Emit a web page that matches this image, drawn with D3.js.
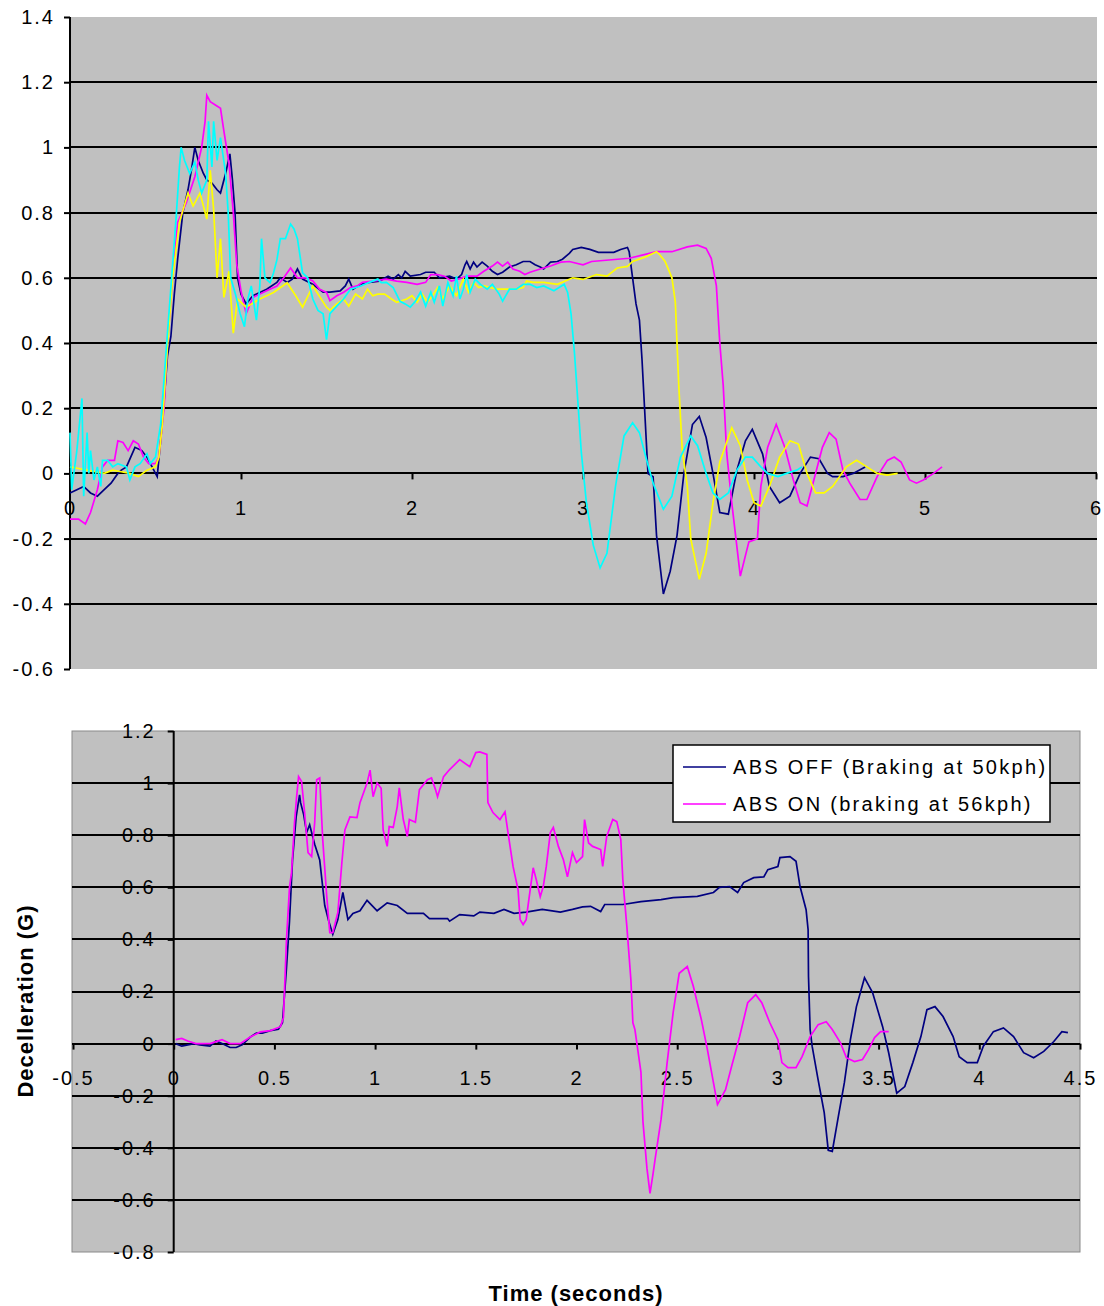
<!DOCTYPE html>
<html>
<head>
<meta charset="utf-8">
<script src="https://cdn.jsdelivr.net/npm/d3@7"></script>
<style>
  html, body { margin: 0; padding: 0; background: #ffffff; }
  svg { display: block; font-family: "Liberation Sans", Arial, sans-serif; }
</style>
</head>
<body>
<svg id="chart" width="1104" height="1306"></svg>
<script>
// ---------------- DATA ----------------
// Top chart: four braking runs, [time (s), deceleration (G)]
const topRun1 = [[0,-0.06],[0.04,-0.05],[0.08,-0.04],[0.12,-0.06],[0.16,-0.07],[0.2,-0.05],[0.24,-0.03],[0.28,0.0],[0.3,0.01],[0.33,0.02],[0.38,0.08],[0.42,0.07],[0.45,0.05],[0.5,0.0],[0.51,-0.01],[0.53,0.1],[0.55,0.22],[0.57,0.36],[0.59,0.42],[0.61,0.55],[0.63,0.66],[0.66,0.8],[0.69,0.87],[0.71,0.93],[0.73,1.0],[0.75,0.96],[0.78,0.92],[0.8,0.9],[0.83,0.89],[0.86,0.87],[0.88,0.86],[0.91,0.92],[0.935,0.98],[0.95,0.9],[0.965,0.8],[0.98,0.6],[1.0,0.55],[1.03,0.52],[1.07,0.545],[1.11,0.555],[1.15,0.565],[1.21,0.586],[1.23,0.6],[1.27,0.586],[1.3,0.596],[1.33,0.627],[1.36,0.596],[1.42,0.58],[1.48,0.556],[1.52,0.556],[1.58,0.56],[1.61,0.575],[1.63,0.596],[1.655,0.565],[1.7,0.58],[1.75,0.586],[1.81,0.59],[1.86,0.605],[1.89,0.596],[1.92,0.61],[1.94,0.6],[1.96,0.62],[1.99,0.605],[2.05,0.61],[2.08,0.617],[2.13,0.617],[2.16,0.6],[2.22,0.605],[2.26,0.596],[2.29,0.61],[2.31,0.64],[2.32,0.65],[2.34,0.627],[2.36,0.648],[2.38,0.633],[2.41,0.648],[2.44,0.636],[2.47,0.62],[2.5,0.61],[2.53,0.617],[2.57,0.633],[2.61,0.64],[2.65,0.65],[2.69,0.65],[2.72,0.64],[2.75,0.633],[2.77,0.627],[2.81,0.648],[2.85,0.65],[2.88,0.657],[2.92,0.675],[2.94,0.687],[2.99,0.693],[3.04,0.687],[3.09,0.678],[3.18,0.678],[3.22,0.687],[3.26,0.693],[3.27,0.68],[3.29,0.6],[3.31,0.52],[3.33,0.47],[3.345,0.35],[3.36,0.2],[3.38,0.0],[3.41,-0.01],[3.43,-0.19],[3.47,-0.37],[3.51,-0.3],[3.55,-0.19],[3.59,0.0],[3.64,0.15],[3.68,0.175],[3.72,0.11],[3.76,0.0],[3.8,-0.12],[3.85,-0.125],[3.9,0.01],[3.95,0.1],[3.99,0.135],[4.05,0.06],[4.09,-0.04],[4.15,-0.09],[4.21,-0.07],[4.27,0.0],[4.33,0.05],[4.38,0.045],[4.43,0.0],[4.46,-0.01],[4.52,-0.01],[4.58,0.0],[4.65,0.02]];

const topRun2 = [[0,-0.14],[0.05,-0.14],[0.09,-0.155],[0.12,-0.12],[0.16,-0.05],[0.19,0.02],[0.22,0.04],[0.26,0.04],[0.28,0.1],[0.31,0.095],[0.34,0.07],[0.37,0.1],[0.4,0.09],[0.43,0.05],[0.46,0.03],[0.5,0.03],[0.52,0.05],[0.55,0.2],[0.57,0.4],[0.6,0.6],[0.63,0.77],[0.68,0.83],[0.73,0.91],[0.77,1.0],[0.79,1.08],[0.8,1.16],[0.82,1.14],[0.85,1.13],[0.88,1.12],[0.9,1.05],[0.93,0.95],[0.955,0.8],[0.975,0.64],[1.0,0.56],[1.03,0.49],[1.07,0.54],[1.15,0.56],[1.21,0.575],[1.25,0.6],[1.29,0.63],[1.33,0.6],[1.38,0.6],[1.42,0.59],[1.46,0.565],[1.5,0.555],[1.52,0.53],[1.56,0.545],[1.6,0.556],[1.64,0.57],[1.68,0.575],[1.71,0.586],[1.77,0.59],[1.85,0.596],[1.91,0.59],[1.97,0.586],[2.03,0.58],[2.08,0.586],[2.11,0.61],[2.15,0.61],[2.19,0.605],[2.23,0.59],[2.27,0.596],[2.32,0.605],[2.38,0.605],[2.42,0.62],[2.47,0.636],[2.5,0.648],[2.53,0.636],[2.56,0.648],[2.59,0.627],[2.63,0.62],[2.66,0.61],[2.69,0.617],[2.75,0.627],[2.81,0.636],[2.87,0.648],[2.92,0.65],[3.0,0.64],[3.05,0.65],[3.27,0.66],[3.43,0.68],[3.52,0.68],[3.61,0.695],[3.67,0.7],[3.72,0.69],[3.75,0.66],[3.78,0.575],[3.8,0.4],[3.82,0.27],[3.84,0.065],[3.87,-0.09],[3.92,-0.315],[3.97,-0.21],[4.02,-0.2],[4.04,-0.04],[4.08,0.08],[4.13,0.15],[4.18,0.08],[4.23,-0.02],[4.27,-0.09],[4.31,-0.1],[4.35,-0.02],[4.4,0.08],[4.44,0.125],[4.48,0.105],[4.52,0.01],[4.56,-0.03],[4.62,-0.08],[4.66,-0.08],[4.72,-0.01],[4.78,0.04],[4.82,0.05],[4.86,0.035],[4.91,-0.02],[4.95,-0.03],[4.99,-0.02],[5.05,0.0],[5.1,0.02]];

const topRun3 = [[0,0.02],[0.05,0.015],[0.1,0.01],[0.15,0.005],[0.2,0.0],[0.25,0.01],[0.3,0.005],[0.35,0.0],[0.4,-0.01],[0.45,0.01],[0.5,0.02],[0.52,0.05],[0.54,0.15],[0.57,0.39],[0.6,0.6],[0.64,0.77],[0.69,0.86],[0.72,0.82],[0.76,0.86],[0.78,0.82],[0.8,0.78],[0.82,0.93],[0.84,0.81],[0.86,0.6],[0.88,0.72],[0.9,0.54],[0.93,0.62],[0.955,0.43],[0.98,0.535],[1.03,0.51],[1.11,0.535],[1.19,0.555],[1.27,0.585],[1.32,0.545],[1.36,0.51],[1.42,0.575],[1.5,0.51],[1.52,0.5],[1.56,0.52],[1.6,0.535],[1.63,0.513],[1.67,0.55],[1.71,0.535],[1.74,0.565],[1.77,0.545],[1.8,0.55],[1.84,0.55],[1.88,0.535],[1.91,0.525],[1.97,0.535],[2.0,0.545],[2.03,0.525],[2.06,0.55],[2.09,0.525],[2.12,0.545],[2.15,0.57],[2.18,0.535],[2.22,0.575],[2.26,0.545],[2.3,0.596],[2.33,0.556],[2.36,0.586],[2.39,0.57],[2.42,0.575],[2.46,0.57],[2.5,0.565],[2.56,0.565],[2.61,0.565],[2.65,0.57],[2.67,0.59],[2.71,0.586],[2.77,0.586],[2.85,0.58],[2.94,0.6],[3.0,0.595],[3.08,0.61],[3.14,0.605],[3.2,0.63],[3.26,0.635],[3.29,0.65],[3.37,0.665],[3.43,0.68],[3.45,0.67],[3.48,0.65],[3.52,0.6],[3.54,0.525],[3.56,0.27],[3.58,0.075],[3.61,-0.04],[3.63,-0.2],[3.68,-0.325],[3.72,-0.245],[3.76,-0.09],[3.8,0.035],[3.87,0.14],[3.92,0.085],[3.96,-0.02],[4.0,-0.09],[4.04,-0.1],[4.09,-0.04],[4.15,0.05],[4.21,0.1],[4.26,0.09],[4.31,0.0],[4.36,-0.06],[4.41,-0.06],[4.46,-0.04],[4.54,0.02],[4.6,0.04],[4.66,0.02],[4.72,0.0],[4.78,-0.005],[4.84,0.0]];

const topRun4 = [[0,0.125],[0.01,-0.05],[0.04,0.07],[0.07,0.23],[0.08,-0.07],[0.1,0.125],[0.11,0.0],[0.12,0.07],[0.14,-0.02],[0.16,0.02],[0.18,-0.04],[0.19,0.04],[0.22,0.04],[0.25,0.02],[0.28,0.03],[0.33,0.02],[0.35,-0.02],[0.38,0.02],[0.41,0.03],[0.45,0.06],[0.47,0.03],[0.5,0.05],[0.53,0.15],[0.57,0.43],[0.6,0.64],[0.62,0.78],[0.64,0.94],[0.65,1.0],[0.67,0.96],[0.7,0.92],[0.73,0.955],[0.75,0.9],[0.77,0.86],[0.8,0.9],[0.81,1.08],[0.83,0.94],[0.84,1.08],[0.86,0.96],[0.88,1.03],[0.91,0.92],[0.925,0.8],[0.94,0.6],[0.97,0.545],[0.995,0.49],[1.02,0.45],[1.04,0.535],[1.06,0.575],[1.09,0.47],[1.11,0.575],[1.12,0.72],[1.14,0.6],[1.17,0.585],[1.19,0.615],[1.21,0.655],[1.23,0.72],[1.26,0.72],[1.29,0.765],[1.31,0.75],[1.33,0.72],[1.36,0.615],[1.39,0.6],[1.42,0.535],[1.45,0.5],[1.48,0.49],[1.5,0.41],[1.52,0.49],[1.56,0.513],[1.6,0.535],[1.64,0.565],[1.7,0.575],[1.75,0.586],[1.8,0.596],[1.82,0.585],[1.85,0.586],[1.89,0.57],[1.93,0.528],[1.96,0.52],[1.99,0.51],[2.02,0.528],[2.05,0.556],[2.08,0.513],[2.11,0.556],[2.13,0.525],[2.16,0.575],[2.18,0.513],[2.21,0.586],[2.24,0.545],[2.26,0.605],[2.28,0.535],[2.3,0.565],[2.32,0.61],[2.34,0.556],[2.37,0.596],[2.4,0.58],[2.44,0.565],[2.47,0.58],[2.51,0.55],[2.53,0.528],[2.57,0.565],[2.61,0.565],[2.65,0.58],[2.69,0.58],[2.73,0.57],[2.77,0.575],[2.83,0.56],[2.89,0.58],[2.91,0.555],[2.93,0.49],[2.95,0.37],[2.97,0.22],[2.99,0.065],[3.02,-0.09],[3.06,-0.22],[3.1,-0.29],[3.14,-0.245],[3.19,-0.04],[3.24,0.115],[3.29,0.155],[3.33,0.125],[3.37,0.045],[3.41,-0.03],[3.47,-0.11],[3.52,-0.07],[3.57,0.05],[3.63,0.115],[3.67,0.085],[3.72,0.0],[3.76,-0.06],[3.8,-0.08],[3.85,-0.06],[3.9,0.01],[3.95,0.05],[3.99,0.05],[4.04,0.02],[4.08,0.0],[4.14,-0.01],[4.19,0.0],[4.25,0.01],[4.28,0.02]];

// Bottom chart: ABS OFF vs ABS ON
const absOff = [[0.01,0.0],[0.04,-0.01],[0.07,-0.005],[0.1,0.0],[0.13,-0.005],[0.18,-0.01],[0.21,0.01],[0.24,0.0],[0.28,-0.015],[0.31,-0.015],[0.34,-0.005],[0.38,0.025],[0.41,0.04],[0.44,0.04],[0.48,0.05],[0.52,0.055],[0.54,0.08],[0.56,0.29],[0.575,0.47],[0.59,0.705],[0.608,0.87],[0.625,0.955],[0.63,0.925],[0.645,0.88],[0.66,0.81],[0.675,0.84],[0.7,0.765],[0.725,0.705],[0.75,0.53],[0.77,0.47],[0.79,0.42],[0.815,0.476],[0.84,0.58],[0.865,0.476],[0.89,0.5],[0.925,0.51],[0.96,0.55],[1.01,0.51],[1.06,0.54],[1.11,0.53],[1.16,0.5],[1.24,0.5],[1.27,0.48],[1.36,0.48],[1.37,0.47],[1.42,0.495],[1.49,0.49],[1.52,0.505],[1.59,0.5],[1.64,0.515],[1.69,0.5],[1.75,0.505],[1.83,0.515],[1.92,0.505],[1.98,0.515],[2.03,0.525],[2.07,0.527],[2.12,0.507],[2.14,0.534],[2.23,0.534],[2.32,0.545],[2.42,0.553],[2.48,0.56],[2.6,0.565],[2.68,0.58],[2.71,0.6],[2.76,0.603],[2.8,0.58],[2.83,0.618],[2.88,0.637],[2.93,0.64],[2.95,0.668],[3.0,0.68],[3.01,0.714],[3.06,0.718],[3.09,0.7],[3.11,0.603],[3.14,0.514],[3.15,0.437],[3.152,0.257],[3.16,0.054],[3.17,-0.01],[3.2,-0.14],[3.23,-0.265],[3.25,-0.41],[3.27,-0.414],[3.3,-0.28],[3.33,-0.15],[3.36,0.015],[3.39,0.142],[3.43,0.253],[3.47,0.196],[3.52,0.065],[3.55,-0.035],[3.59,-0.19],[3.63,-0.165],[3.67,-0.073],[3.71,0.027],[3.74,0.13],[3.78,0.142],[3.82,0.104],[3.87,0.027],[3.9,-0.05],[3.94,-0.073],[3.99,-0.073],[4.02,-0.01],[4.07,0.046],[4.12,0.06],[4.17,0.027],[4.22,-0.035],[4.27,-0.054],[4.32,-0.03],[4.37,0.008],[4.41,0.046],[4.44,0.042]];

const absOn = [[0.01,0.015],[0.04,0.02],[0.07,0.01],[0.11,0.0],[0.18,0.0],[0.24,0.015],[0.28,0.0],[0.33,0.0],[0.38,0.025],[0.43,0.045],[0.48,0.05],[0.53,0.065],[0.545,0.1],[0.56,0.4],[0.575,0.6],[0.585,0.656],[0.6,0.85],[0.61,0.944],[0.62,1.025],[0.635,1.006],[0.65,0.887],[0.667,0.733],[0.685,0.718],[0.7,0.848],[0.71,1.013],[0.725,1.02],[0.74,0.783],[0.76,0.564],[0.775,0.426],[0.79,0.426],[0.815,0.503],[0.835,0.695],[0.85,0.82],[0.875,0.87],[0.91,0.868],[0.925,0.925],[0.96,1.0],[0.975,1.05],[0.99,0.948],[1.01,1.0],[1.03,0.98],[1.04,0.82],[1.06,0.757],[1.07,0.833],[1.09,0.83],[1.11,0.91],[1.12,0.982],[1.14,0.86],[1.16,0.795],[1.17,0.86],[1.2,0.85],[1.22,0.975],[1.26,1.013],[1.28,1.02],[1.3,0.975],[1.31,0.948],[1.34,1.025],[1.37,1.052],[1.42,1.09],[1.47,1.063],[1.5,1.117],[1.52,1.12],[1.555,1.11],[1.56,0.925],[1.585,0.887],[1.62,0.86],[1.645,0.89],[1.66,0.81],[1.685,0.68],[1.71,0.59],[1.72,0.476],[1.735,0.457],[1.75,0.476],[1.77,0.59],[1.785,0.675],[1.8,0.63],[1.82,0.564],[1.835,0.603],[1.85,0.68],[1.87,0.81],[1.885,0.83],[1.91,0.757],[1.935,0.706],[1.955,0.64],[1.98,0.733],[2.0,0.695],[2.03,0.718],[2.04,0.86],[2.06,0.77],[2.08,0.757],[2.12,0.745],[2.13,0.68],[2.15,0.795],[2.18,0.86],[2.2,0.852],[2.22,0.783],[2.23,0.63],[2.25,0.45],[2.27,0.246],[2.28,0.08],[2.29,0.054],[2.3,0.0],[2.32,-0.11],[2.33,-0.3],[2.35,-0.48],[2.365,-0.575],[2.38,-0.5],[2.39,-0.445],[2.42,-0.29],[2.45,-0.073],[2.48,0.12],[2.51,0.27],[2.55,0.296],[2.58,0.22],[2.62,0.092],[2.65,-0.023],[2.68,-0.15],[2.7,-0.234],[2.74,-0.177],[2.77,-0.088],[2.81,0.027],[2.85,0.157],[2.89,0.188],[2.92,0.157],[2.96,0.08],[3.0,0.015],[3.02,-0.073],[3.05,-0.092],[3.09,-0.092],[3.12,-0.05],[3.16,0.027],[3.2,0.073],[3.24,0.084],[3.27,0.054],[3.31,0.004],[3.34,-0.054],[3.38,-0.069],[3.42,-0.061],[3.45,-0.023],[3.48,0.023],[3.51,0.046],[3.55,0.046]];

// Ticks / labels
const topYTicks = [-0.6,-0.4,-0.2,0,0.2,0.4,0.6,0.8,1,1.2,1.4];
const topYLabels = ["-0.6","-0.4","-0.2","0","0.2","0.4","0.6","0.8","1","1.2","1.4"];
const topXTicks = [0,1,2,3,4,5,6];
const topXLabels = ["0","1","2","3","4","5","6"];
const botYTicks = [-0.8,-0.6,-0.4,-0.2,0,0.2,0.4,0.6,0.8,1,1.2];
const botYLabels = ["-0.8","-0.6","-0.4","-0.2","0","0.2","0.4","0.6","0.8","1","1.2"];
const botXTicks = [-0.5,0,0.5,1,1.5,2,2.5,3,3.5,4,4.5];
const botXLabels = ["-0.5","0","0.5","1","1.5","2","2.5","3","3.5","4","4.5"];

const topSeries = [topRun1, topRun2, topRun3, topRun4];
const topColors = ["#000080", "#FF00FF", "#FFFF00", "#00FFFF"];
const botSeries = [absOff, absOn];
const botColors = ["#000080", "#FF00FF"];
const legendLabels = ["ABS OFF (Braking at 50kph)", "ABS ON (braking at 56kph)"];
const yTitle = "Decelleration (G)";
const xTitle = "Time (seconds)";

// ---------------- DRAWING ----------------
const svg = d3.select("#chart");
const PLOT_BG = "#C0C0C0";

function drawChart(cfg) {
  const g = svg.append("g");
  const x = d3.scaleLinear().domain(cfg.xDomain).range(cfg.xRange);
  const y = d3.scaleLinear().domain(cfg.yDomain).range(cfg.yRange);
  // plot background
  g.append("rect")
    .attr("x", cfg.bgX0).attr("y", cfg.yRange[1])
    .attr("width", cfg.bgX1 - cfg.bgX0).attr("height", cfg.yRange[0] - cfg.yRange[1])
    .attr("fill", PLOT_BG)
    .attr("stroke", cfg.bgStroke || "none").attr("stroke-width", 1);
  // gridlines (interior ticks)
  g.selectAll("line.grid").data(cfg.yTicks.slice(1, -1)).enter().append("line")
    .attr("x1", cfg.bgX0).attr("x2", cfg.bgX1)
    .attr("y1", d => Math.round(y(d))).attr("y2", d => Math.round(y(d)))
    .attr("stroke", "#000").attr("stroke-width", 2);
  // y axis
  const yAxis = d3.axisLeft(y).tickValues(cfg.yTicks)
    .tickFormat((d, i) => cfg.yLabels[i]).tickSize(6).tickSizeOuter(0).tickPadding(cfg.yPad);
  const ya = g.append("g").attr("transform", `translate(${x(cfg.yAxisAt)},0)`).call(yAxis);
  // x axis
  const xAxis = d3.axisBottom(x).tickValues(cfg.xTicks)
    .tickFormat((d, i) => cfg.xLabels[i]).tickSize(6).tickSizeOuter(0).tickPadding(cfg.xPad);
  const xa = g.append("g").attr("transform", `translate(0,${y(0)})`).call(xAxis);
  [ya, xa].forEach(a => {
    a.select(".domain").remove();
    a.selectAll(".tick line").attr("stroke", "#000").attr("stroke-width", 2);
    a.selectAll(".tick text")
      .attr("fill", "#000").style("font-size", "20px")
      .style("letter-spacing", "2px")
      .style("font-family", '"Liberation Sans", Arial, sans-serif');
  });
  // axis lines
  g.append("line")
    .attr("x1", x(cfg.yAxisAt)).attr("x2", x(cfg.yAxisAt))
    .attr("y1", cfg.yRange[1]).attr("y2", cfg.yRange[0])
    .attr("stroke", "#000").attr("stroke-width", 2);
  g.append("line")
    .attr("x1", cfg.bgX0).attr("x2", cfg.bgX1)
    .attr("y1", Math.round(y(0))).attr("y2", Math.round(y(0)))
    .attr("stroke", "#000").attr("stroke-width", 2);
  // series
  const line = d3.line().x(d => x(d[0])).y(d => y(d[1]));
  cfg.series.forEach((s, i) => {
    g.append("path").datum(s)
      .attr("d", line)
      .attr("fill", "none")
      .attr("stroke", cfg.colors[i])
      .attr("stroke-width", 1.7)
      .attr("stroke-linejoin", "miter");
  });
  return { x, y, g };
}

drawChart({
  xDomain: [0, 6], xRange: [70, 1096],
  yDomain: [-0.6, 1.4], yRange: [669, 17],
  bgX0: 70, bgX1: 1097,
  yTicks: topYTicks, yLabels: topYLabels,
  xTicks: topXTicks, xLabels: topXLabels,
  yAxisAt: 0, yPad: 9, xPad: 21,
  series: topSeries, colors: topColors
});

drawChart({
  xDomain: [-0.5, 4.5], xRange: [73, 1080],
  yDomain: [-0.8, 1.2], yRange: [1252, 731],
  bgX0: 72, bgX1: 1080, bgStroke: "#8a8a8a",
  yTicks: botYTicks, yLabels: botYLabels,
  xTicks: botXTicks, xLabels: botXLabels,
  yAxisAt: 0, yPad: 12, xPad: 21,
  series: botSeries, colors: botColors
});

// legend
const lg = svg.append("g").attr("transform", "translate(673,745)");
lg.append("rect").attr("width", 377).attr("height", 77)
  .attr("fill", "#fff").attr("stroke", "#000").attr("stroke-width", 1.5);
legendLabels.forEach((lab, i) => {
  const yy = 22 + i * 37;
  lg.append("line").attr("x1", 10).attr("x2", 53).attr("y1", yy).attr("y2", yy)
    .attr("stroke", botColors[i]).attr("stroke-width", 1.7);
  lg.append("text").attr("x", 60).attr("y", yy).attr("dy", "0.35em")
    .style("font-size", "20px").style("letter-spacing", "2.3px").attr("fill", "#000")
    .text(lab);
});

// axis titles
svg.append("text")
  .attr("transform", "translate(33,1001) rotate(-90)")
  .attr("text-anchor", "middle")
  .style("font-size", "22px").style("font-weight", "bold").style("letter-spacing", "1px")
  .text(yTitle);
svg.append("text")
  .attr("x", 576).attr("y", 1301)
  .attr("text-anchor", "middle")
  .style("font-size", "22px").style("font-weight", "bold").style("letter-spacing", "1px")
  .text(xTitle);
</script>
</body>
</html>
